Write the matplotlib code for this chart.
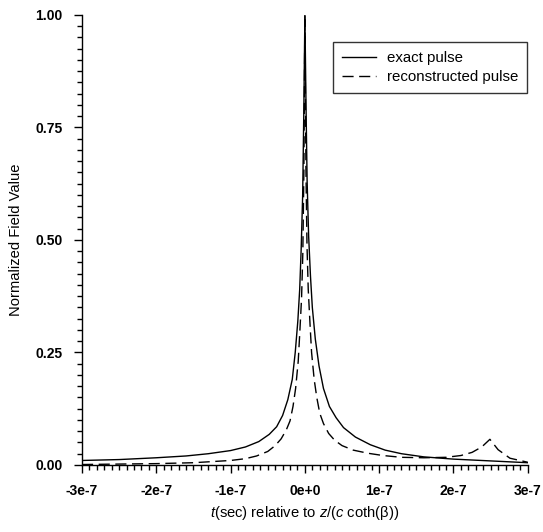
import matplotlib
matplotlib.use("Agg")
import matplotlib.pyplot as plt
from matplotlib.ticker import MultipleLocator

plt.rcParams['font.family'] = ['Liberation Sans', 'DejaVu Sans']
plt.rcParams['mathtext.fontset'] = 'custom'
plt.rcParams['mathtext.it'] = 'Liberation Sans:italic'
plt.rcParams['mathtext.rm'] = 'Liberation Sans'

# time in units of 1e-7 s
t_exact = [-3.0, -2.5, -2.0, -1.6, -1.3, -1.0, -0.8, -0.62, -0.48, -0.38, -0.3,
           -0.23, -0.17, -0.13, -0.095, -0.07, -0.05, -0.03, -0.015, 0.0,
           0.015, 0.03, 0.05, 0.075, 0.1, 0.14, 0.19, 0.25, 0.33, 0.42,
           0.52, 0.68, 0.88, 1.08, 1.3, 1.6, 2.0, 2.5, 3.0]
v_exact = [0.010, 0.012, 0.016, 0.020, 0.025, 0.032, 0.040, 0.052, 0.068, 0.085, 0.110,
           0.145, 0.190, 0.250, 0.320, 0.390, 0.480, 0.600, 0.780, 1.00,
           0.800, 0.630, 0.510, 0.420, 0.350, 0.280, 0.220, 0.170, 0.130, 0.105,
           0.083, 0.062, 0.045, 0.033, 0.025, 0.018, 0.013, 0.009, 0.005]

t_recon = [-3.0, -2.5, -2.0, -1.5, -1.2, -1.0, -0.8, -0.65, -0.5, -0.4, -0.32,
           -0.25, -0.2, -0.16, -0.125, -0.09, -0.07, -0.045, -0.028, -0.014, 0.0,
           0.014, 0.028, 0.045, 0.07, 0.09, 0.125, 0.16, 0.2, 0.25, 0.32, 0.4,
           0.5, 0.65, 0.85, 1.05, 1.3, 1.6, 1.9, 2.1, 2.25, 2.38, 2.49, 2.6, 2.76, 3.0]
v_recon = [0.001, 0.002, 0.003, 0.005, 0.008, 0.010, 0.014, 0.020, 0.030, 0.043, 0.058,
           0.078, 0.098, 0.130, 0.170, 0.230, 0.290, 0.370, 0.470, 0.650, 1.00,
           0.660, 0.490, 0.390, 0.310, 0.250, 0.190, 0.150, 0.115, 0.092, 0.070, 0.055,
           0.043, 0.033, 0.026, 0.021, 0.017, 0.016, 0.017, 0.021, 0.028, 0.040, 0.057, 0.034, 0.015, 0.006]

x_ticks = [-3, -2, -1, 0, 1, 2, 3]
x_ticklabels = ["-3e-7", "-2e-7", "-1e-7", "0e+0", "1e-7", "2e-7", "3e-7"]
y_ticks = [0.0, 0.25, 0.5, 0.75, 1.0]
y_ticklabels = ["0.00", "0.25", "0.50", "0.75", "1.00"]

fig = plt.figure(figsize=(5.43, 5.32), dpi=100)
ax = fig.add_axes([0.151, 0.126, 0.821, 0.846])

ax.plot(t_exact, v_exact, color='black', lw=1.0, label='exact pulse')
ax.plot(t_recon, v_recon, color='black', lw=1.0, dashes=(8, 4), label='reconstructed pulse')

ax.set_xlim(-3, 3)
ax.set_ylim(0, 1)
ax.set_xticks(x_ticks)
ax.set_xticklabels(x_ticklabels)
ax.set_yticks(y_ticks)
ax.set_yticklabels(y_ticklabels)
ax.xaxis.set_minor_locator(MultipleLocator(0.1))
ax.yaxis.set_minor_locator(MultipleLocator(0.025))

for s in ['top', 'right']:
    ax.spines[s].set_visible(False)
ax.spines['left'].set_linewidth(1.0)
ax.spines['bottom'].set_linewidth(1.0)

ax.tick_params(axis='both', which='major', direction='out', length=6, width=1.0,
               labelsize=10, pad=8)
ax.tick_params(axis='both', which='minor', direction='out', length=3.5, width=1.0)
for lab in ax.get_xticklabels() + ax.get_yticklabels():
    lab.set_fontweight('bold')

ax.set_xlabel(r'$\mathit{t}$(sec) relative to $\mathit{z}$/($\mathit{c}$ coth(β))',
              fontsize=10.6, labelpad=4)
ax.set_ylabel('Normalized Field Value', fontsize=10.6, labelpad=9)

leg = ax.legend(loc='upper right', bbox_to_anchor=(0.998, 0.94), borderaxespad=0,
                fontsize=10.8, frameon=True, fancybox=False, edgecolor='black',
                handlelength=2.3, handletextpad=0.7, borderpad=0.6, labelspacing=0.35)
leg.get_frame().set_linewidth(1.0)

fig.savefig('out.png', dpi=100, facecolor='white')
